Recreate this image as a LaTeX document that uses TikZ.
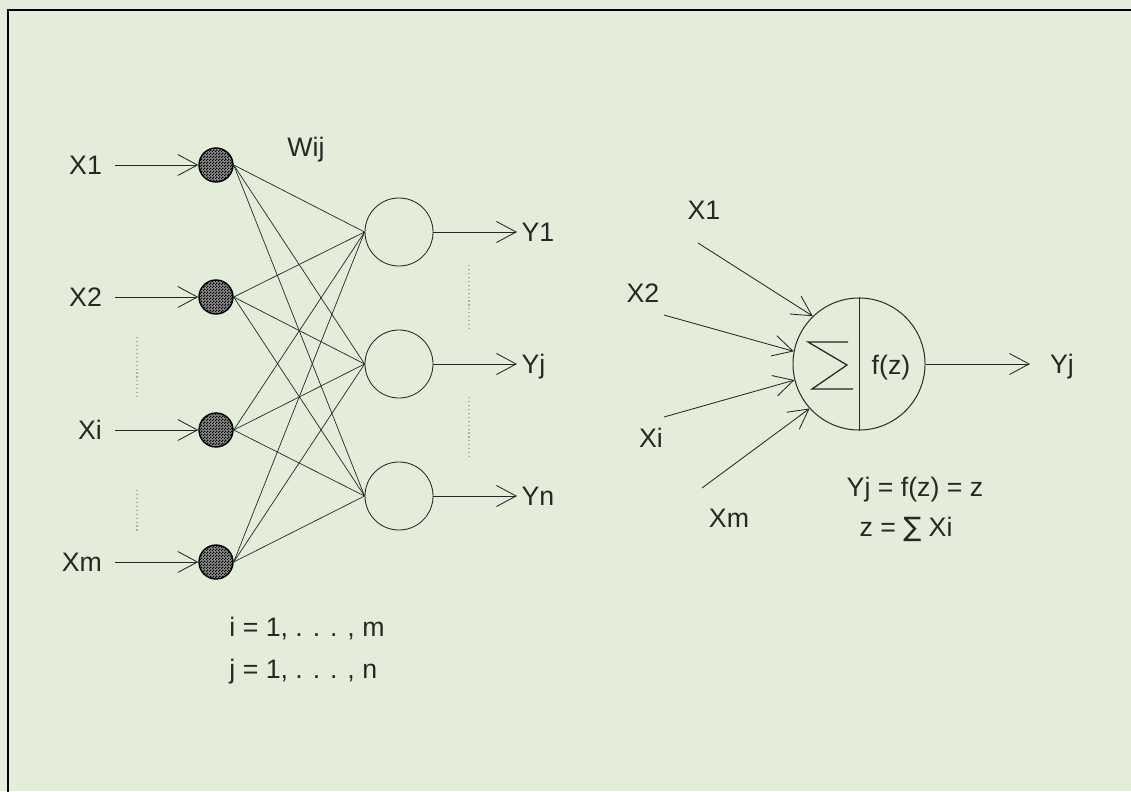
\documentclass[tikz,border=0pt]{standalone}
\usepackage{fontspec}
\setmainfont{Liberation Sans}
\newfontfamily\symfont{DejaVu Sans}
\usepackage{xcolor}
\usepackage{tikz}
\usetikzlibrary{arrows.meta,patterns}
\definecolor{paper}{RGB}{227,237,218}
\definecolor{ink}{RGB}{38,40,36}
\pgfdeclarepatternformonly{finechecker}{\pgfqpoint{0pt}{0pt}}{\pgfqpoint{2.2pt}{2.2pt}}{\pgfqpoint{2.2pt}{2.2pt}}{%
  \pgfpathrectangle{\pgfpointorigin}{\pgfqpoint{1.1pt}{1.1pt}}%
  \pgfpathrectangle{\pgfqpoint{1.1pt}{1.1pt}}{\pgfqpoint{1.1pt}{1.1pt}}%
  \pgfusepath{fill}}

\begin{document}
\begin{tikzpicture}[x=0.025cm, y=-0.025cm, color=ink, line width=0.6pt,
    >={Straight Barb[length=14pt,width=15pt]},
    font=\fontsize{19}{22}\selectfont,
    inp/.style={circle, draw=black, line width=1pt, minimum size=0.85cm, inner sep=0pt,
      preaction={fill=black!45}, pattern=finechecker, pattern color=black},
    outn/.style={circle, draw, minimum size=1.7cm, inner sep=0pt},
    lbl/.style={inner sep=0pt, text height=13.5pt, text depth=0pt},
    wire/.style={line width=0.5pt},
    gap/.style={dotted, gray!65, line width=0.8pt}]
    \path[use as bounding box, fill=paper] (0,0) rectangle (1131,791);
    \draw[line width=1.8pt, black] (8,800) -- (8,10) -- (1140,10);
    \node[inp] (in1) at (216,165) {};
    \node[inp] (in2) at (216,297) {};
    \node[inp] (in3) at (216,430) {};
    \node[inp] (in4) at (216,562) {};
    \node[lbl, anchor=east, inner xsep=9pt] (x1) at (115,165) {X1};
    \node[lbl, anchor=east, inner xsep=9pt] (x2) at (115,297) {X2};
    \node[lbl, anchor=east, inner xsep=9pt] (xi) at (115,430) {Xi};
    \node[lbl, anchor=east, inner xsep=9pt] (xm) at (115,562) {Xm};
    \node[outn] (out1) at (399,232) {};
    \node[outn] (out2) at (399,364) {};
    \node[outn] (out3) at (399,496) {};
    \node[lbl, anchor=west, inner xsep=3pt] (y1) at (517,232) {Y1};
    \node[lbl, anchor=west, inner xsep=3pt] (yj) at (517,364) {Yj};
    \node[lbl, anchor=west, inner xsep=3pt] (yn) at (517,496) {Yn};
    \node[lbl] (wij) at (306,147) {Wij};
    \foreach \i in {1,...,4}
      \foreach \j in {1,2,3}
        \draw[wire] (in\i.east) -- (out\j.west);
    \foreach \a/\b in {x1/in1, x2/in2, xi/in3, xm/in4}
      \draw[->] (\a) -- (\b);
    \foreach \j/\y in {1/y1, 2/yj, 3/yn}
      \draw[->] (out\j) -- (\y);
    \draw[gap] (137,337) -- (137,397);
    \draw[gap] (137,490) -- (137,532);
    \draw[gap] (469,265) -- (469,330);
    \draw[gap] (469,397) -- (469,457);
    \node[inner sep=0pt, anchor=base west] (irange) at (229,636) {i = 1, . . . , m};
    \node[inner sep=0pt, anchor=base west] (jrange) at (229,678) {j = 1, . . . , n};
    \node[circle, draw, minimum size=3.3cm, inner sep=0pt, line width=0.7pt] (nrn) at (859,364) {};
    \draw (nrn.north) -- (nrn.south);
    \draw[line width=0.9pt] (853,389) -- (812,389) -- (847,365) -- (808,342) -- (848,342);
    \node[lbl] (fz) at (891,365) {f(z)};
    \node[lbl, anchor=west, inner xsep=14pt] (yout) at (1030,364) {Yj};
    \draw[->] (nrn.east) -- (yout);
    \node[lbl] (a1) at (704,210) {X1};
    \node[lbl] (a2) at (643,293) {X2};
    \node[lbl] (ai) at (651,438) {Xi};
    \node[lbl] (am) at (729,518) {Xm};
    \coordinate (t1) at (698,243);
    \coordinate (t2) at (664,315);
    \coordinate (ti) at (664,417);
    \coordinate (tm) at (702,488);
    \draw[->] (t1) -- (nrn.134);
    \draw[->] (t2) -- (nrn.169);
    \draw[->] (ti) -- (nrn.194);
    \draw[->] (tm) -- (nrn.222);
    \node[lbl] (eq1) at (915,487) {Yj = f(z) = z};
    \node[lbl] (eq2) at (906,527) {z = {\symfont ∑} Xi};
\end{tikzpicture}
\end{document}
